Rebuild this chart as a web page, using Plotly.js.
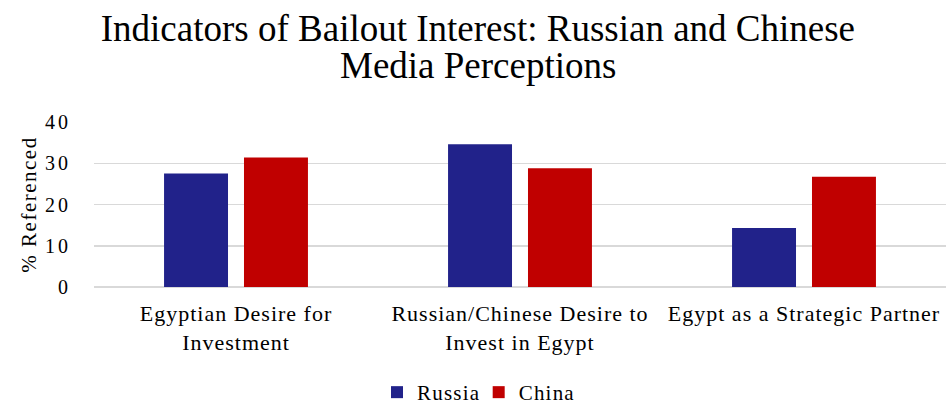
<!DOCTYPE html>
<html>
<head>
<meta charset="utf-8">
<script src="https://cdn.plot.ly/plotly-3.0.1.min.js"></script>
<style>
html,body{margin:0;padding:0;background:#fff;}
#chart{width:952px;height:411px;}
#chart .xtick text{letter-spacing:1px;}
#chart .ytick text{letter-spacing:3px;}
#chart .legendtext{letter-spacing:1.2px;}
#chart .ytitle{letter-spacing:1.5px;}
</style>
</head>
<body>
<div id="chart"></div>
<script>
const titleLines = ["Indicators of Bailout Interest: Russian and Chinese", "Media Perceptions"];
const categories = [
  "Egyptian Desire for<br>Investment",
  "Russian/Chinese Desire to<br>Invest in Egypt",
  "Egypt as a Strategic Partner"
];
const russiaValues = [27.5, 34.6, 14.3];
const chinaValues = [31.4, 28.8, 26.7];
const yTicks = [0, 10, 20, 30, 40];

const font = "'Liberation Serif', 'Times New Roman', serif";

const traces = [
  {type: "bar", name: "Russia", x: categories, y: russiaValues,
   marker: {color: "#21228A"}, hoverinfo: "skip"},
  {type: "bar", name: "China", x: categories, y: chinaValues,
   marker: {color: "#C00000"}, hoverinfo: "skip"}
];

const layout = {
  width: 952, height: 411,
  paper_bgcolor: "#fff", plot_bgcolor: "#fff",
  font: {family: font, size: 20, color: "#000"},
  margin: {l: 94, r: 6, t: 122, b: 124},
  title: {
    text: titleLines[0],
    font: {family: font, size: 37, color: "#000"},
    x: 0.502, xanchor: "center", xref: "container",
    y: 1 - 28 / 411, yanchor: "middle", yref: "container"
  },
  annotations: [{
    text: titleLines[1], showarrow: false,
    font: {family: font, size: 37, color: "#000"},
    xref: "paper", x: (478 - 94) / 852, xanchor: "center",
    yref: "paper", y: 1 + (122 - 65) / 165, yanchor: "middle"
  }],
  barmode: "group",
  bargap: 0.437,
  bargroupgap: 0.2,
  xaxis: {
    type: "category",
    showgrid: false, showline: false, zeroline: false,
    ticks: "", tickfont: {family: font, size: 22, color: "#000"},
    ticklabelstandoff: 11
  },
  yaxis: {
    range: [0, 40], tickvals: yTicks, ticktext: yTicks.map(String),
    showgrid: true, gridcolor: "#d9d9d9", gridwidth: 1.5,
    zeroline: true, zerolinecolor: "#d9d9d9", zerolinewidth: 1.5,
    showline: false, ticks: "",
    tickfont: {family: font, size: 20, color: "#000"},
    ticklabelstandoff: 22,
    title: {text: "% Referenced", font: {family: font, size: 21, color: "#000"}, standoff: 8}
  },
  legend: {
    orientation: "h", x: 0.5, xanchor: "center", xref: "container",
    y: 0.045, yanchor: "middle", yref: "container",
    font: {family: font, size: 21, color: "#000"},
    itemwidth: 30, traceorder: "normal"
  },
  showlegend: true
};

Plotly.newPlot("chart", traces, layout, {displayModeBar: false, staticPlot: true});
</script>
</body>
</html>
